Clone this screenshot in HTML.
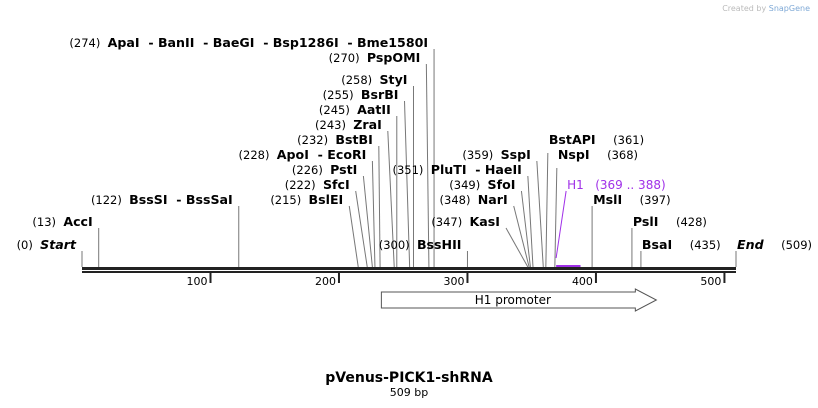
<!DOCTYPE html>
<html><head><meta charset="utf-8"><style>
html,body{margin:0;padding:0;background:#fff;width:818px;height:408px;overflow:hidden}
svg{display:block;font-family:"DejaVu Sans","Liberation Sans",sans-serif}
text,tspan{white-space:pre}
</style></head><body>
<svg id="map" width="818" height="408" viewBox="0 0 818 408" xmlns="http://www.w3.org/2000/svg">
<text x="810" y="11" text-anchor="end" font-size="8" fill="#bbb">Created by <tspan fill="#7fa9d6">SnapGene</tspan></text>
<g id="marks"></g>
<text x="409" y="382" text-anchor="middle" font-size="14" font-weight="bold" fill="#000">pVenus-PICK1-shRNA</text>
<text x="409" y="396" text-anchor="middle" font-size="11" fill="#000">509 bp</text>
</svg>
<script>
const seqLength = 509;
const tickValues = [100, 200, 300, 400, 500];
const leftNames = ["Start","AccI","BssSI  - BssSaI","BslEI","SfcI","PstI","ApoI  - EcoRI","BstBI","ZraI","AatII","BsrBI","StyI","PspOMI","ApaI  - BanII  - BaeGI  - Bsp1286I  - Bme1580I","BssHII","KasI","NarI","SfoI","PluTI  - HaeII","SspI"];
const leftPos = [0,13,122,215,222,226,228,232,243,245,255,258,270,274,300,347,348,349,351,359];
const leftRow = [0,1,2,2,3,4,5,6,7,8,9,10,11,12,0,1,2,3,4,5];
const leftOffsetBp = [0,0,0,-7,-9,-7,-2,-1,-5,0,-4,0,-2,0,0,-17,-12,-7,-4,-5];
const rightNames = ["BstAPI","NspI","MslI","PslI","BsaI","End"];
const rightPos = [361,368,397,428,435,509];
const rightRow = [6,5,2,1,0,0];
const featureName = "H1";
const featureStart = 369, featureEnd = 388;
const promoterStart = 233, promoterEnd = 447;

const X = bp => 82 + bp * (654 / seqLength);
const rowY = r => [249,226,204,189,174,159,144,129,114,99,84,62,47][r];
const NS = "http://www.w3.org/2000/svg";
const g = document.getElementById('marks');
function mk(tag, attrs, parent){const e=document.createElementNS(NS,tag);for(const k in attrs)e.setAttribute(k,attrs[k]);(parent||g).appendChild(e);return e;}

let bb = mk('rect',{x:X(0),y:267,width:X(seqLength)-X(0),height:3,fill:'#222'});


let bb2 = mk('rect',{x:X(0),y:271,width:X(seqLength)-X(0),height:2,fill:'#222'});



tickValues.forEach(v=>{
  const t = mk('line',{x1:X(v),x2:X(v),y1:272,y2:283,stroke:'#222','stroke-width':2});
  
  
  const l = mk('text',{x:X(v)-3,y:285,'text-anchor':'end','font-size':11,fill:'#000'});
  l.textContent = v;
  
  
});

leftNames.forEach((n,i)=>{
  const bx = X(leftPos[i]), tx = X(leftPos[i]+leftOffsetBp[i]), y = rowY(leftRow[i]);
  const ln = mk('line',{x1:bx,y1:267,x2:tx,y2:y+2,stroke:'#777','stroke-width':1});
  
  
  const t = mk('text',{x:tx-6,y:y,'text-anchor':'end','font-size':12,fill:'#000'});
  
  
  const a = mk('tspan',{'font-size':11.5},t); a.textContent='('+leftPos[i]+')  ';
  const b = mk('tspan',{'font-weight':'bold','font-size':12.6,'font-style':n==='Start'?'italic':'normal'},t); b.textContent=n;
});

rightNames.forEach((n,i)=>{
  const bx = X(rightPos[i]), y = rowY(rightRow[i]);
  const tx = bx + (i<2?2:0);
  const ln = mk('line',{x1:bx,y1:267,x2:tx,y2:y+(i<2?9:2),stroke:'#777','stroke-width':1});
  
  
  const t = mk('text',{x:tx+1,y:y,'font-size':12.6,fill:'#000'});
  
  
  const b = mk('tspan',{'font-weight':'bold','font-style':n==='End'?'italic':'normal'},t); b.textContent=n+'    ';
  const a = mk('tspan',{'font-size':11.5},t); a.textContent='('+rightPos[i]+')';
});

const fx1 = X(featureStart), fx2 = X(featureEnd);
const fl = mk('line',{x1:fx1,y1:266,x2:fx2,y2:266,stroke:'#a030e8','stroke-width':2});


const fd = mk('line',{x1:fx1,y1:258,x2:fx1+10,y2:191,stroke:'#a030e8','stroke-width':1});


const ft = mk('text',{x:fx1+11,y:189,'font-size':12,fill:'#a030e8'});
ft.textContent = featureName+'   ('+featureStart+' .. '+featureEnd+')';



const p1 = X(promoterStart), p2 = X(promoterEnd), ph = p2-21;
const pa = mk('path',{d:`M${p1},292 L${ph},292 L${ph},289 L${p2},300 L${ph},311 L${ph},308 L${p1},308 Z`,fill:'#fff',stroke:'#555','stroke-width':1});


const pt = mk('text',{x:(p1+p2)/2-6,y:304,'text-anchor':'middle','font-size':12,fill:'#000'});
pt.textContent='H1 promoter';


</script>
</body></html>
